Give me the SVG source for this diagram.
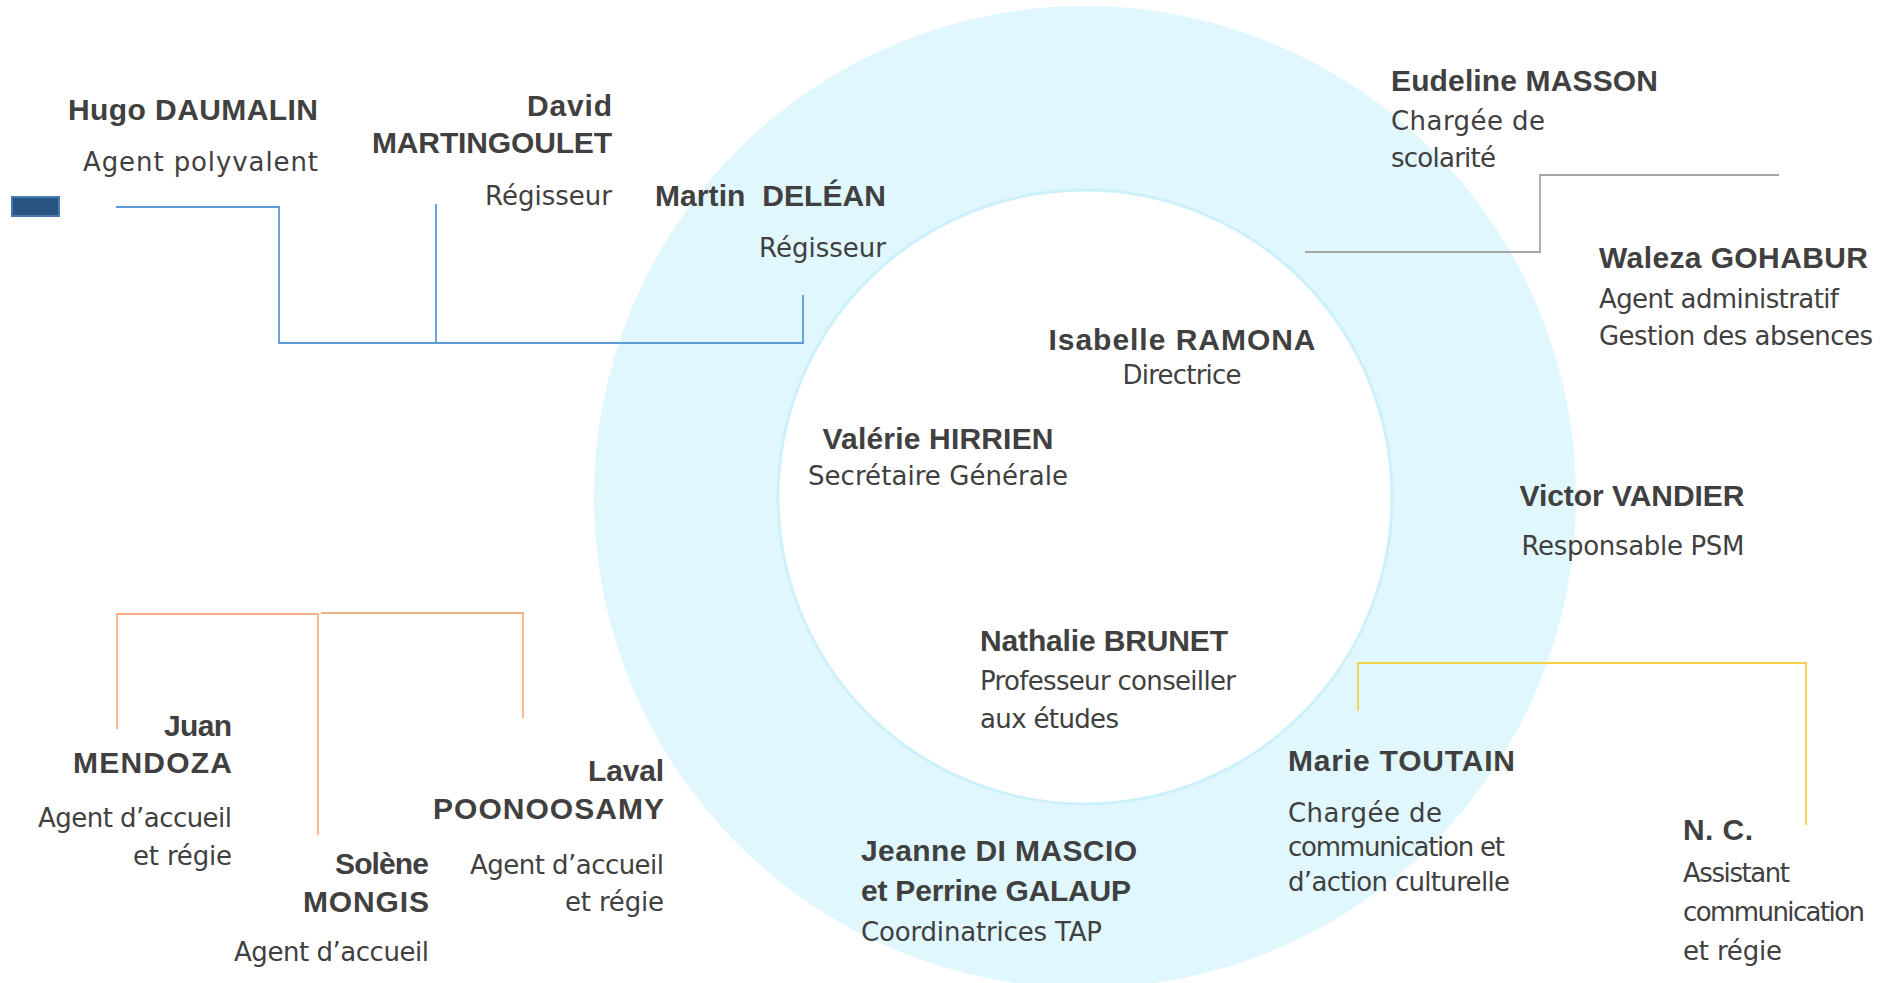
<svg xmlns="http://www.w3.org/2000/svg" width="1890" height="983" viewBox="0 0 1890 983">
<style>
.n{font-family:"Liberation Sans",Arial,sans-serif;font-weight:bold;font-size:30px;fill:#404040}
.d{font-family:"DejaVu Sans","Liberation Sans",sans-serif;font-size:26px;fill:#404040}
.e{text-anchor:end}
.m{text-anchor:middle}
.ln{fill:none;stroke-width:1.8}
.blue{stroke:#5b9bd5}
.gray{stroke:#a6a6a6}
.yel{stroke:#f5cf45}
.org{stroke:#f4b183}
</style>
<rect x="0" y="0" width="1890" height="983" fill="#ffffff"/>
<g id="ring">
<circle cx="1085" cy="497" r="491" fill="#dff7fd"/>
<circle cx="1085" cy="497" r="307" fill="#ffffff" stroke="#cdf1fa" stroke-width="3"/>
</g>
<g id="connectors">
<path class="ln blue" d="M116 207 H279 V343 H803 V295"/>
<path class="ln blue" d="M436 204 V343"/>
<path class="ln gray" d="M1305 252 H1540 V175 H1779"/>
<path class="ln yel" d="M1358 711 V663 H1806 V825"/>
<path class="ln org" d="M117 729 V614 H319"/>
<path class="ln org" d="M318 614 V835"/>
<path class="ln org" d="M321 613 H523 V718"/>
</g>
<g id="legend-box"><rect x="12" y="197" width="47" height="19" fill="#285483" stroke="#4a7aab" stroke-width="2"/></g>
<g id="hugo"><text class="n e" x="318" y="120" textLength="250">Hugo DAUMALIN</text><text class="d e" x="318" y="171" textLength="235">Agent polyvalent</text></g>
<g id="david"><text class="n e" x="612" y="116" textLength="85">David</text><text class="n e" x="612" y="153" textLength="240">MARTINGOULET</text><text class="d e" x="612" y="205" textLength="127">Régisseur</text></g>
<g id="martin"><text class="n e" x="886" y="206" textLength="231" xml:space="preserve" style="white-space:pre">Martin  DELÉAN</text><text class="d e" x="886" y="257" textLength="127">Régisseur</text></g>
<g id="eudeline"><text class="n" x="1391" y="91" textLength="267">Eudeline MASSON</text><text class="d" x="1391" y="130" textLength="154">Chargée de</text><text class="d" x="1391" y="167" textLength="105">scolarité</text></g>
<g id="waleza"><text class="n" x="1599" y="268" textLength="269">Waleza GOHABUR</text><text class="d" x="1599" y="308" textLength="240">Agent administratif</text><text class="d" x="1599" y="345" textLength="274">Gestion des absences</text></g>
<g id="isabelle"><text class="n m" x="1182" y="350" textLength="267">Isabelle RAMONA</text><text class="d m" x="1182" y="384" textLength="119">Directrice</text></g>
<g id="valerie"><text class="n m" x="938" y="449" textLength="231">Valérie HIRRIEN</text><text class="d m" x="938" y="485" textLength="260">Secrétaire Générale</text></g>
<g id="victor"><text class="n m" x="1632" y="506" textLength="225">Victor VANDIER</text><text class="d m" x="1633" y="555" textLength="223">Responsable PSM</text></g>
<g id="nathalie"><text class="n" x="980" y="651" textLength="248">Nathalie BRUNET</text><text class="d" x="980" y="690" textLength="256">Professeur conseiller</text><text class="d" x="980" y="728" textLength="139">aux études</text></g>
<g id="marie"><text class="n" x="1288" y="771" textLength="227">Marie TOUTAIN</text><text class="d" x="1288" y="822" textLength="154">Chargée de</text><text class="d" x="1288" y="856" textLength="217">communication et</text><text class="d" x="1288" y="891" textLength="222">d’action culturelle</text></g>
<g id="nc"><text class="n" x="1683" y="840" textLength="70">N. C.</text><text class="d" x="1683" y="882" textLength="107">Assistant</text><text class="d" x="1683" y="921" textLength="182">communication</text><text class="d" x="1683" y="960" textLength="99">et régie</text></g>
<g id="jeanne"><text class="n" x="861" y="861" textLength="276">Jeanne DI MASCIO</text><text class="n" x="861" y="901" textLength="270">et Perrine GALAUP</text><text class="d" x="861" y="941" textLength="241">Coordinatrices TAP</text></g>
<g id="juan"><text class="n e" x="232" y="736" textLength="68">Juan</text><text class="n e" x="232" y="773" textLength="159">MENDOZA</text><text class="d e" x="232" y="827" textLength="194">Agent d’accueil</text><text class="d e" x="232" y="865" textLength="99">et régie</text></g>
<g id="solene"><text class="n e" x="429" y="874" textLength="94">Solène</text><text class="n e" x="429" y="912" textLength="126">MONGIS</text><text class="d e" x="429" y="961" textLength="195">Agent d’accueil</text></g>
<g id="laval"><text class="n e" x="664" y="781" textLength="76">Laval</text><text class="n e" x="664" y="819" textLength="231">POONOOSAMY</text><text class="d e" x="664" y="874" textLength="194">Agent d’accueil</text><text class="d e" x="664" y="911" textLength="99">et régie</text></g>
</svg>
